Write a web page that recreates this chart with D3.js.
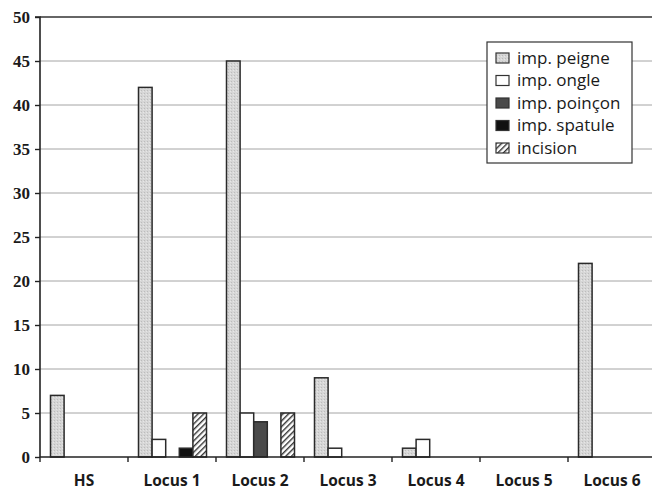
<!DOCTYPE html>
<html><head><meta charset="utf-8">
<script src="https://cdn.jsdelivr.net/npm/d3@7/dist/d3.min.js"></script>
<style>body{margin:0;background:#fff;}svg{display:block;}</style>
</head><body>
<svg id="c" width="652" height="490"></svg>
<script>
const categories = ["HS","Locus 1","Locus 2","Locus 3","Locus 4","Locus 5","Locus 6"];
const seriesNames = ["imp. peigne","imp. ongle","imp. poinçon","imp. spatule","incision"];
const peigne   = [7, 42, 45, 9, 1, 0, 22];
const ongle    = [0, 2, 5, 1, 2, 0, 0];
const poincon  = [0, 0, 4, 0, 0, 0, 0];
const spatule  = [0, 1, 0, 0, 0, 0, 0];
const incision = [0, 5, 5, 0, 0, 0, 0];
const yTicks = [0,5,10,15,20,25,30,35,40,45,50];

const seriesValues = [peigne, ongle, poincon, spatule, incision];
const fills = ["url(#stip)", "#ffffff", "#4a4a4a", "#111111", "url(#hatch)"];

const svg = d3.select("#c");
const defs = svg.append("defs");
const stip = defs.append("pattern").attr("id","stip").attr("patternUnits","userSpaceOnUse").attr("width",3).attr("height",3);
stip.append("rect").attr("width",3).attr("height",3).attr("fill","#d6d6d6");
stip.append("rect").attr("x",0).attr("y",0).attr("width",1).attr("height",1).attr("fill","#bcbcbc");
stip.append("rect").attr("x",2).attr("y",1).attr("width",1).attr("height",1).attr("fill","#e6e6e6");
const hatch = defs.append("pattern").attr("id","hatch").attr("patternUnits","userSpaceOnUse").attr("width",4).attr("height",4)
  .attr("patternTransform","rotate(45)");
hatch.append("rect").attr("width",4).attr("height",4).attr("fill","#fff");
hatch.append("rect").attr("width",1.4).attr("height",4).attr("fill","#333");

const x0 = 40, yTop = 17, yBot = 457;
const x = d3.scaleBand().domain(categories).range([x0, x0 + 88*categories.length]).paddingInner(0).paddingOuter(0);
const xs = d3.scaleBand().domain(seriesNames).range([10.5, 78.5]).padding(0);
const y = d3.scaleLinear().domain([0,50]).range([yBot, yTop]);

// gridlines
svg.append("g").selectAll("line").data(yTicks.filter(d=>d>0)).join("line")
  .attr("x1", x0).attr("x2", 660).attr("y1", d=>y(d)).attr("y2", d=>y(d))
  .attr("stroke", d=> d===50 ? "#333" : "#9a9a9a").attr("stroke-width", d=> d===50 ? 1.4 : 0.9);

// bars
const data = [];
categories.forEach((c,i)=>seriesNames.forEach((s,j)=>{
  const v = seriesValues[j][i];
  if (v > 0) data.push({c, s, j, v});
}));
svg.append("g").selectAll("rect").data(data).join("rect")
  .attr("x", d=>x(d.c)+xs(d.s)).attr("width", xs.bandwidth())
  .attr("y", d=>y(d.v)).attr("height", d=>yBot - y(d.v))
  .attr("fill", d=>fills[d.j]).attr("stroke","#2a2a2a").attr("stroke-width",1.5);

// y axis
const yAxis = d3.axisLeft(y).tickValues(yTicks).tickSize(5).tickPadding(5);
const gy = svg.append("g").attr("transform",`translate(${x0},0)`).call(yAxis);
gy.select(".domain").attr("stroke","#222").attr("stroke-width",1.6).attr("d",`M-5,${yTop}H0V${yBot}`);
gy.selectAll(".tick line").attr("stroke","#222").attr("stroke-width",1.4);
gy.selectAll(".tick text").attr("font-family","'Liberation Serif', serif").attr("font-weight","bold")
  .attr("font-size",17).attr("fill","#1a1a1a");

// x axis
const xAxis = d3.axisBottom(x).tickSize(0).tickPadding(18);
const gx = svg.append("g").attr("transform",`translate(0,${yBot})`).call(xAxis);
gx.select(".domain").attr("stroke","#222").attr("stroke-width",1.6).attr("d",`M${x0},0H660`);
gx.selectAll(".tick text").attr("font-family","'Open Sans', sans-serif").attr("font-weight","bold")
  .attr("font-size",15.5).attr("fill","#1a1a1a");
// boundary ticks
svg.append("g").selectAll("line").data(categories).join("line")
  .attr("x1", d=>x(d)).attr("x2", d=>x(d)).attr("y1", yBot).attr("y2", yBot+5)
  .attr("stroke","#222").attr("stroke-width",1.4);

// legend
const lg = svg.append("g").attr("transform","translate(487,42)");
lg.append("rect").attr("width",145).attr("height",121).attr("fill","#fff").attr("stroke","#333").attr("stroke-width",1.2);
const items = lg.selectAll("g.it").data(seriesNames).join("g").attr("class","it")
  .attr("transform",(d,i)=>`translate(9,${16 + i*22.5})`);
items.append("rect").attr("x",0).attr("y",-5).attr("width",13).attr("height",10)
  .attr("fill",(d,i)=>fills[i]).attr("stroke","#333").attr("stroke-width",1.2);
items.append("text").attr("x",21).attr("y",0).attr("dy","0.35em").text(d=>d)
  .attr("font-family","'Open Sans', sans-serif").attr("font-size",17).attr("fill","#1a1a1a");
</script>
</body></html>
